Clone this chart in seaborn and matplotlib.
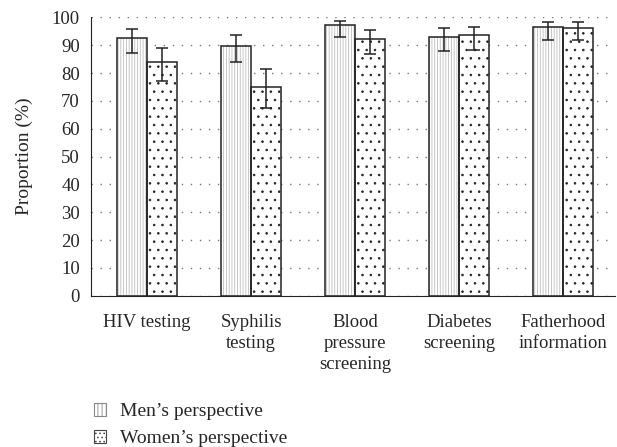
import pandas as pd
import matplotlib.pyplot as plt
import seaborn as sns
from matplotlib.patches import Patch, Rectangle

categories = ["HIV testing", "Syphilis\ntesting", "Blood\npressure\nscreening",
              "Diabetes\nscreening", "Fatherhood\ninformation"]
men = [92.5, 89.9, 97.2, 93.1, 96.6]
men_lo = [87.1, 83.9, 92.9, 87.8, 92.0]
men_hi = [95.8, 93.7, 98.8, 96.2, 98.4]
women = [84.1, 75.1, 92.3, 93.7, 96.3]
women_lo = [77.2, 67.4, 86.8, 88.3, 91.8]
women_hi = [89.1, 81.5, 95.6, 96.6, 98.3]
groups = ["Men\u2019s perspective", "Women\u2019s perspective"]

sns.set_style("white")
plt.rcParams["font.family"] = ["Liberation Serif", "DejaVu Serif"]
plt.rcParams["hatch.linewidth"] = 0.6

df = pd.DataFrame({
    "category": categories * 2,
    "value": men + women,
    "group": [groups[0]] * 5 + [groups[1]] * 5,
})

fig = plt.figure(figsize=(6.17, 4.47), dpi=100)
ax = fig.add_axes([0.1475, 0.3385, 0.997 - 0.1475, 0.961 - 0.3385])

sns.barplot(data=df, x="category", y="value", hue="group", order=categories,
            hue_order=groups, width=0.58, errorbar=None, legend=False,
            palette=["white", "white"], ax=ax, zorder=2)

# hatch fills + dark outlines, then the confidence intervals
hatches = ["||||||", ".."]
hatch_cols = ["#bdbdbd", "#222222"]
lows = [men_lo, women_lo]
highs = [men_hi, women_hi]
vals = [men, women]
bar_sets = list(ax.containers)
for i, cont in enumerate(bar_sets):
    xs = []
    for p in cont.patches:
        p.set_hatch(hatches[i])
        p.set_edgecolor(hatch_cols[i])
        p.set_linewidth(0)
        ax.add_patch(Rectangle((p.get_x(), p.get_y()), p.get_width(), p.get_height(),
                               fill=False, edgecolor="#222222", lw=1.1, zorder=3))
        xs.append(p.get_x() + p.get_width() / 2)
    lo = [v - l for v, l in zip(vals[i], lows[i])]
    hi = [h - v for v, h in zip(vals[i], highs[i])]
    ax.errorbar(xs, vals[i], yerr=[lo, hi], fmt="none", ecolor="#222222",
                elinewidth=1.1, capsize=4, capthick=1.1, zorder=4)

ax.set_ylim(0, 100)
ax.set_xlim(-0.54, 4.5)
ax.set_yticks(range(0, 101, 10))
ax.set_ylabel("Proportion (%)", fontsize=14)
ax.yaxis.set_label_coords(-0.11, 0.5)
ax.set_xlabel("")
ax.yaxis.grid(True, linestyle=(0, (1, 5.5)), color="#777777", lw=1)
ax.set_axisbelow(True)

ax.set_xticks([x - 0.5 for x in range(6)], minor=True)
ax.tick_params(axis="x", which="major", length=0, pad=13, labelsize=13.5)
ax.tick_params(axis="x", which="minor", length=4, direction="out", width=1, color="#222222")
ax.tick_params(axis="y", length=4, direction="out", width=1, color="#222222",
               labelsize=13.5, pad=4)
for t in ax.get_xticklabels():
    t.set_linespacing(1.3)

sns.despine(ax=ax)
ax.spines["left"].set_color("#222222")
ax.spines["bottom"].set_color("#222222")

handles = [
    Patch(facecolor="white", edgecolor="#888888", hatch="||||", lw=0.8),
    Patch(facecolor="white", edgecolor="#444444", hatch="....", lw=0.8),
]
fig.legend(handles, groups, loc="upper left", bbox_to_anchor=(0.152, 0.098),
           frameon=False, fontsize=14, handlelength=0.62, handleheight=0.62,
           handletextpad=0.72, labelspacing=0.5, borderaxespad=0, borderpad=0)

fig.savefig("out.png", dpi=100)
